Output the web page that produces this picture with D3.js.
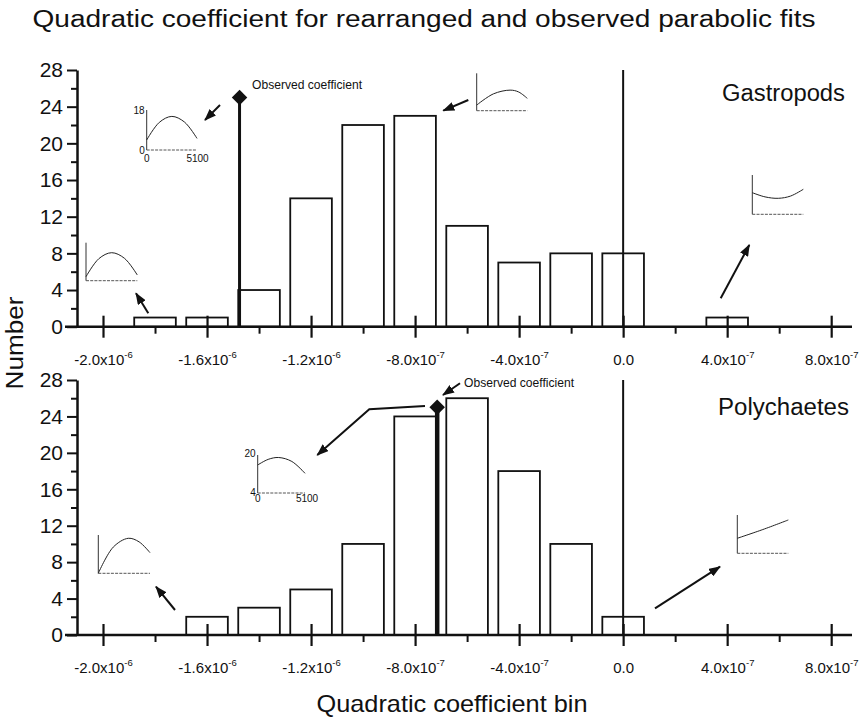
<!DOCTYPE html>
<html>
<head>
<meta charset="utf-8">
<script src="https://cdn.jsdelivr.net/npm/d3@7"></script>
<style>
  body { margin: 0; background: #fff; }
  svg { display: block; font-family: "Liberation Sans", Arial, Helvetica, sans-serif; }
</style>
</head>
<body>
<svg id="chart" width="865" height="720"></svg>
<script>
// Histogram bins (centre of each quadratic-coefficient bin)
const binCenters = [-2.0e-6, -1.8e-6, -1.6e-6, -1.4e-6, -1.2e-6, -1.0e-6, -8e-7, -6e-7,
                    -4e-7, -2e-7, 0, 2e-7, 4e-7, 6e-7, 8e-7];
const gastropodCounts  = [0, 1, 1, 4, 14, 22, 23, 11, 7, 8, 8, 0, 1, 0, 0];
const polychaeteCounts = [0, 0, 2, 3, 5, 10, 24, 26, 18, 10, 2, 0, 0, 0, 0];
const barFraction = 0.8;                 // bar width as a share of the bin width
const binWidth = 2e-7;

// Observed coefficients of the real (unrearranged) data
const observedGastropods  = -1.475e-6;
const observedPolychaetes = -7.15e-7;
const observedMarkerLevel = 25;

// Axis ticks
const xTickValues    = [-2.0e-6, -1.6e-6, -1.2e-6, -8e-7, -4e-7, 0, 4e-7, 8e-7];
const xTickMantissas = ["-2.0", "-1.6", "-1.2", "-8.0", "-4.0", "0.0", "4.0", "8.0"];
const xTickExponents = ["-6", "-6", "-6", "-7", "-7", "", "-7", "-7"];
const xMinorTicks    = [-1.8e-6, -1.4e-6, -1.0e-6, -6e-7, -2e-7, 2e-7, 6e-7];
const yTickValues    = [0, 4, 8, 12, 16, 20, 24, 28];
const yMinorTicks    = [2, 6, 10, 14, 18, 22, 26];

// Small sketches of example parabolic fits (shape as fractions of each sketch frame)
const gastropodSketches = [
  { x0: 146.7, base: 150, w: 50.3, h: 40,
    pts: [[0, 0.25], [0.25, 0.69], [0.5, 0.84], [0.75, 0.70], [1, 0.29]],
    labels: [["18", -2, -36, "end"], ["0", -2, 4, "end"], ["0", 0, 12, "middle"], ["5100", 0.5, 12, "middle", true]] },
  { x0: 476.7, base: 110.7, w: 50.6, h: 37.4,
    pts: [[0, 0.15], [0.33, 0.45], [0.66, 0.55], [0.83, 0.50], [1, 0.33]] },
  { x0: 752.3, base: 214.3, w: 51, h: 39.3,
    pts: [[0, 0.55], [0.25, 0.443], [0.51, 0.407], [0.75, 0.464], [1, 0.636]] },
  { x0: 86, base: 280.7, w: 51.3, h: 38,
    pts: [[0, 0.105], [0.25, 0.579], [0.5, 0.737], [0.75, 0.589], [1, 0.15]] }
];
const polychaeteSketches = [
  { x0: 257.7, base: 493, w: 47.3, h: 38,
    pts: [[0, 0.737], [0.222, 0.885], [0.444, 0.934], [0.722, 0.83], [1, 0.518]],
    labels: [["20", -2, -36, "end"], ["4", -2, 3, "end"], ["0", 0, 9, "middle"], ["5100", 2, 9, "middle", true]] },
  { x0: 98.3, base: 573.3, w: 51.7, h: 38.3,
    pts: [[0, 0], [0.29, 0.685], [0.58, 0.914], [0.79, 0.82], [1, 0.538]] },
  { x0: 737.3, base: 553.3, w: 51, h: 38.3,
    pts: [[0, 0.392], [0.5, 0.62], [1, 0.87]] }
];

// Pointer arrows linking bins to their sketches
const gastropodArrows = [
  [[220, 105], [205, 120]],
  [[468.3, 100], [443.3, 110.7]],
  [[720.7, 298.3], [749.3, 245]],
  [[148.3, 313.3], [136, 293.3]]
];
const polychaeteArrows = [
  [[425, 406], [369.3, 409.3], [317.3, 455]],
  [[460, 383.3], [443, 395]],
  [[175, 610], [156, 586.7]],
  [[655, 608.3], [720, 566.7]]
];

const svg = d3.select("#chart");
const ink = "#111";

const defs = svg.append("defs");
defs.append("marker")
  .attr("id", "head")
  .attr("markerUnits", "userSpaceOnUse")
  .attr("viewBox", "0 0 12 9")
  .attr("markerWidth", 12).attr("markerHeight", 9)
  .attr("refX", 11).attr("refY", 4.5)
  .attr("orient", "auto")
  .append("path").attr("d", "M0,0 L12,4.5 L0,9 Z").attr("fill", ink);

const x = d3.scaleLinear().domain([-2.1e-6, 0.88e-6]).range([77, 852]);

const panels = [
  { name: "Gastropods", counts: gastropodCounts, observed: observedGastropods,
    yRange: [326.7, 70], sketches: gastropodSketches, arrows: gastropodArrows,
    obsWidth: 3, labelX: 845, labelY: 101, labelLen: 123, noteX: 252, noteY: 89 },
  { name: "Polychaetes", counts: polychaeteCounts, observed: observedPolychaetes,
    yRange: [635, 380], sketches: polychaeteSketches, arrows: polychaeteArrows,
    obsWidth: 4.5, labelX: 849, labelY: 415, labelLen: 131, noteX: 464, noteY: 387 }
];

panels.forEach(p => {
  const y = d3.scaleLinear().domain([0, 28]).range(p.yRange);
  const g = svg.append("g");

  // bars
  const bins = binCenters.map((c, i) => ({ c, v: p.counts[i] })).filter(d => d.v > 0);
  g.selectAll("rect.bar").data(bins).enter().append("rect")
    .attr("class", "bar")
    .attr("x", d => x(d.c - binWidth * barFraction / 2))
    .attr("width", d => x(d.c + binWidth * barFraction / 2) - x(d.c - binWidth * barFraction / 2))
    .attr("y", d => y(d.v))
    .attr("height", d => y(0) - y(d.v))
    .attr("fill", "#fff").attr("stroke", ink).attr("stroke-width", 1.8);

  // zero reference line
  g.append("line")
    .attr("x1", x(0)).attr("x2", x(0))
    .attr("y1", y(0)).attr("y2", y(28))
    .attr("stroke", ink).attr("stroke-width", 2);

  // observed coefficient
  g.append("line")
    .attr("x1", x(p.observed)).attr("x2", x(p.observed))
    .attr("y1", y(0)).attr("y2", y(observedMarkerLevel))
    .attr("stroke", ink).attr("stroke-width", p.obsWidth);
  g.append("path")
    .attr("d", d3.symbol(d3.symbolSquare, 120)())
    .attr("transform", `translate(${x(p.observed)},${y(observedMarkerLevel)}) rotate(45)`)
    .attr("fill", ink);

  // y axis
  const yAxis = g.append("g").attr("transform", `translate(${x.range()[0]},0)`)
    .call(d3.axisLeft(y).tickValues(yTickValues).tickSizeInner(10).tickSizeOuter(0).tickPadding(4));
  yAxis.select(".domain").attr("stroke", ink).attr("stroke-width", 2.5);
  yAxis.selectAll(".tick line").attr("stroke", ink).attr("stroke-width", 2);
  yAxis.selectAll(".tick text").attr("font-size", 21).attr("fill", ink);
  const yMinor = g.append("g").attr("transform", `translate(${x.range()[0]},0)`)
    .call(d3.axisLeft(y).tickValues(yMinorTicks).tickSize(6).tickFormat(""));
  yMinor.select(".domain").remove();
  yMinor.selectAll(".tick line").attr("stroke", ink).attr("stroke-width", 2);

  // x axis
  g.append("line")
    .attr("x1", 65).attr("x2", x.range()[1])
    .attr("y1", y(0)).attr("y2", y(0))
    .attr("stroke", ink).attr("stroke-width", 2.5);
  const xAxis = g.append("g").attr("transform", `translate(0,${y(0)})`)
    .call(d3.axisBottom(x).tickValues(xTickValues).tickSize(11).tickFormat(""));
  xAxis.select(".domain").remove();
  xAxis.selectAll(".tick line").attr("y1", -11).attr("stroke", ink).attr("stroke-width", 2.2);
  const lbl = xAxis.selectAll(".tick").append("text")
    .attr("y", 38).attr("text-anchor", "middle")
    .attr("fill", ink).attr("font-size", 15);
  lbl.append("tspan").text((d, i) => xTickExponents[i] ? xTickMantissas[i] + "x10" : xTickMantissas[i]);
  lbl.append("tspan").attr("dy", -7).attr("font-size", 9.5)
    .text((d, i) => xTickExponents[i]);
  const xMinor = g.append("g").attr("transform", `translate(0,${y(0)})`)
    .call(d3.axisBottom(x).tickValues(xMinorTicks).tickSize(7).tickFormat(""));
  xMinor.select(".domain").remove();
  xMinor.selectAll(".tick line").attr("stroke", ink).attr("stroke-width", 2);

  // panel label
  g.append("text")
    .attr("x", p.labelX).attr("y", p.labelY)
    .attr("text-anchor", "end").attr("font-size", 23).attr("fill", ink)
    .attr("textLength", p.labelLen).attr("lengthAdjust", "spacingAndGlyphs")
    .text(p.name);

  // observed coefficient note
  g.append("text")
    .attr("x", p.noteX).attr("y", p.noteY)
    .attr("font-family", "'Liberation Sans Narrow','Arial Narrow',sans-serif")
    .attr("font-size", 13).attr("fill", ink)
    .attr("textLength", 110).attr("lengthAdjust", "spacingAndGlyphs")
    .text("Observed coefficient");

  // sketches of example fits
  p.sketches.forEach(s => {
    const sx = d3.scaleLinear().domain([0, 1]).range([s.x0, s.x0 + s.w]);
    const sy = d3.scaleLinear().domain([0, 1]).range([s.base, s.base - s.h]);
    const sg = g.append("g");
    sg.append("line").attr("x1", sx(0)).attr("x2", sx(0)).attr("y1", sy(0)).attr("y2", sy(1))
      .attr("stroke", "#333").attr("stroke-width", 1);
    sg.append("line").attr("x1", sx(0)).attr("x2", sx(1)).attr("y1", sy(0)).attr("y2", sy(0))
      .attr("stroke", "#555").attr("stroke-width", 1).attr("stroke-dasharray", "3,1.2");
    sg.append("path")
      .attr("d", d3.line().x(d => sx(d[0])).y(d => sy(d[1])).curve(d3.curveCatmullRom)(s.pts))
      .attr("fill", "none").attr("stroke", "#222").attr("stroke-width", 1);
    (s.labels || []).forEach(l => {
      sg.append("text")
        .attr("x", (l[4] ? sx(1) : sx(0)) + l[1]).attr("y", s.base + l[2])
        .attr("text-anchor", l[3])
        .attr("font-family", "'Liberation Sans Narrow','Arial Narrow',sans-serif")
        .attr("font-size", 10).attr("fill", ink)
        .text(l[0]);
    });
  });

  // arrows
  g.selectAll("path.arrow").data(p.arrows).enter().append("path")
    .attr("class", "arrow")
    .attr("d", d => d3.line()(d))
    .attr("fill", "none").attr("stroke", ink).attr("stroke-width", 2)
    .attr("marker-end", "url(#head)");
});

// titles
svg.append("text")
  .attr("x", 424).attr("y", 27)
  .attr("text-anchor", "middle").attr("font-size", 23).attr("fill", ink)
  .attr("textLength", 783).attr("lengthAdjust", "spacingAndGlyphs")
  .text("Quadratic coefficient for rearranged and observed parabolic fits");
svg.append("text")
  .attr("x", 452).attr("y", 712)
  .attr("text-anchor", "middle").attr("font-size", 24).attr("fill", ink)
  .attr("textLength", 271).attr("lengthAdjust", "spacingAndGlyphs")
  .text("Quadratic coefficient bin");
svg.append("text")
  .attr("transform", "translate(23,343) rotate(-90)")
  .attr("text-anchor", "middle").attr("font-size", 23).attr("fill", ink)
  .attr("textLength", 93).attr("lengthAdjust", "spacingAndGlyphs")
  .text("Number");
</script>
</body>
</html>
